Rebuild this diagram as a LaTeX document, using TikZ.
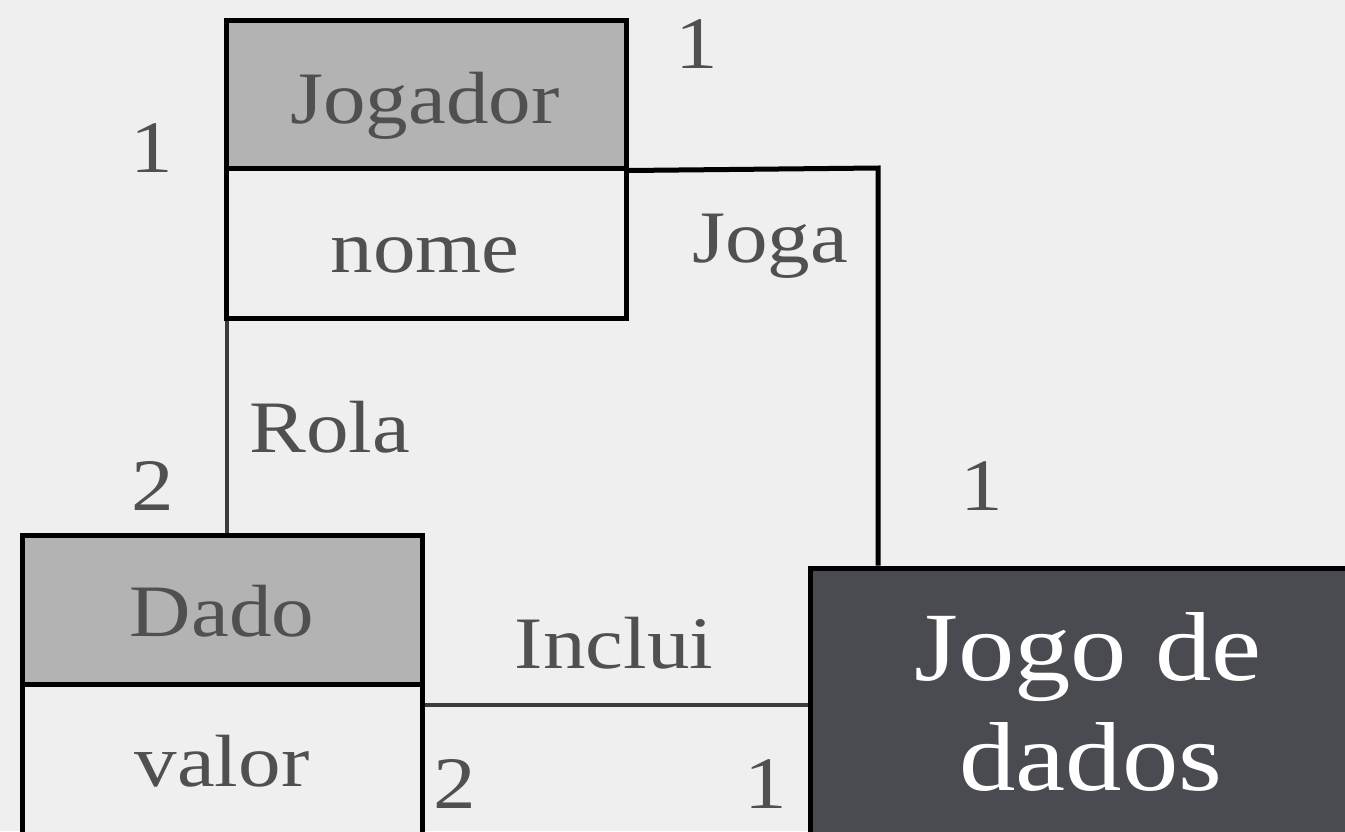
\documentclass[tikz,border=0pt]{standalone}
\usepackage{fontspec}
\setmainfont{Liberation Serif}[FakeStretch=1.15]
\usetikzlibrary{positioning}
\definecolor{bg}{HTML}{EFEFEF}
\definecolor{hdr}{HTML}{B3B3B3}
\definecolor{txt}{HTML}{505050}
\definecolor{dark}{HTML}{4A4B51}
\definecolor{conn}{HTML}{3C3C3C}
\begin{document}
\begin{tikzpicture}[x=0.5pt,y=-0.5pt,
  box/.style={draw=black,line width=2.5pt,minimum width=200pt,inner sep=0pt,font=\fontsize{37}{40}\selectfont,text=txt},
  lbl/.style={inner sep=0pt,anchor=base,font=\fontsize{37}{40}\selectfont,text=txt},
  heavy/.style={draw=black,line width=2.5pt},
  light/.style={draw=conn,line width=2pt}]
\fill[bg] (0,0) rectangle (1345,831);
\useasboundingbox (0,0) rectangle (1345,831);
% Jogador
\node[box,fill=hdr,minimum height=74pt] (jh) at (426,94) {};
\node[box,fill=bg,minimum height=75pt] (ja) at (426,243) {};
% Dado
\node[box,fill=hdr,minimum height=74.5pt] (dh) at (222.5,609.5) {};
\node[box,fill=bg,minimum height=78pt] (da) at (222.5,762) {};
% Jogo de dados
\node[draw=black,line width=2.5pt,fill=dark,minimum width=275pt,minimum height=141pt,inner sep=0pt] (jogo) at (1085,709) {};
% texts in boxes
\node[lbl] (tjh) at (425,123) {Jogador};
\node[lbl] (tja) at (425,272) {nome};
\node[lbl] (tdh) at (222,636) {Dado};
\node[lbl] (tda) at (222,786) {valor};
\node[lbl,text=white,font=\fontsize{49}{54}\selectfont] (tj1) at (1088,680) {Jogo de};
\node[lbl,text=white,font=\fontsize{49}{54}\selectfont] (tj2) at (1091,790) {dados};
% connectors
\coordinate (jc) at (878,168);
\draw[heavy] (jh.south east) -- (jc) -- (jc |- jogo.north);
\draw[light] ([xshift=1.5pt]ja.south west) -- ([xshift=1.5pt]ja.south west |- dh.north);
\draw[light] ([yshift=-9pt]dh.south east) -- ([yshift=-9pt]dh.south east -| jogo.west);
% labels
\node[lbl] (l1) at (697,68) {1};
\node[lbl] (l2) at (152,172) {1};
\node[lbl] (l3) at (770,262) {Joga};
\node[lbl] (l4) at (330,452) {Rola};
\node[lbl] (l5) at (153,510) {2};
\node[lbl] (l6) at (982,510) {1};
\node[lbl] (l7) at (614,668) {Inclui};
\node[lbl] (l8) at (455,808) {2};
\node[lbl] (l9) at (766,808) {1};
\end{tikzpicture}
\end{document}
